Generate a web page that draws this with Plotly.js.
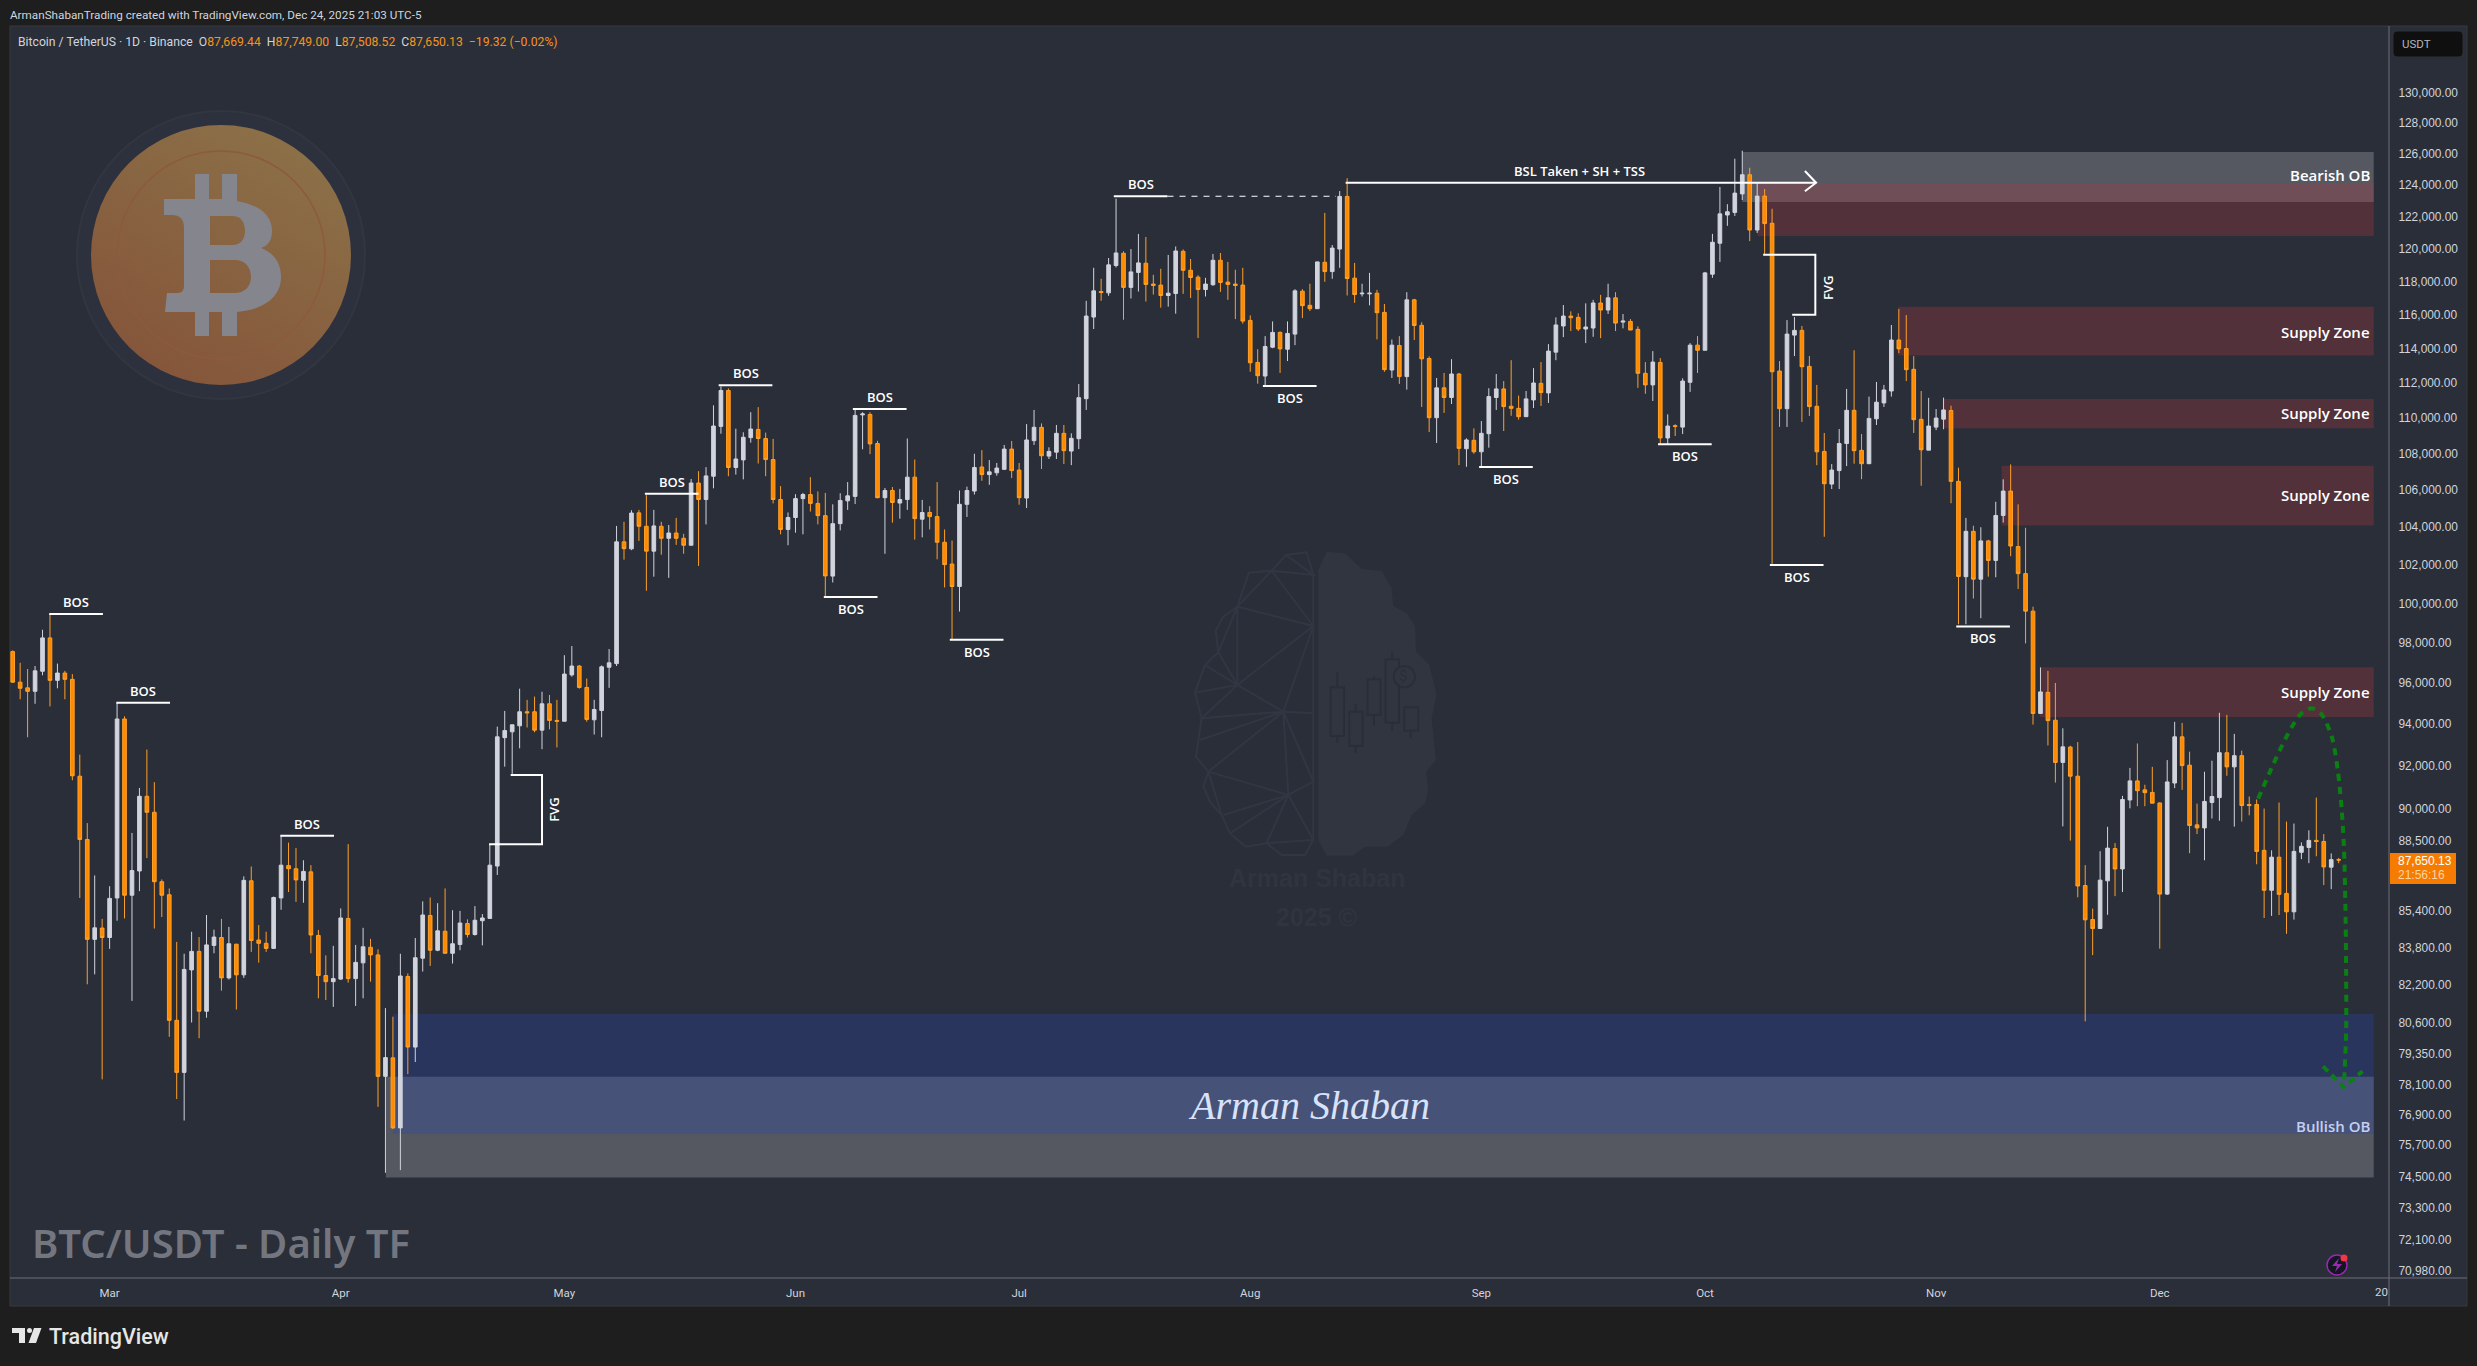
<!DOCTYPE html>
<html>
<head>
<meta charset="utf-8">
<title>BTC/USDT - Daily TF</title>
<script src="https://cdn.plot.ly/plotly-3.0.1.min.js"></script>
<style>
    html, body { margin: 0; padding: 0; background: #1e1e1e; overflow: hidden; }
    #chart { width: 2477px; height: 1366px; }
</style>
</head>
<body>
<div id="chart"></div>
<script>
// Daily candles, first one is 2025-02-16
const opens = [
    97560,96040,95760,95590,96580,98250,96130,96490,96180,91510,88580,84150,84640,84230,85960,94240,86080,87160,90570,89830,
    86680,86100,80720,78590,82840,83630,81100,83890,84230,82500,83940,82630,86720,84120,83980,83760,85960,87400,87260,86740,
    87120,84320,82600,82340,82450,85060,82470,83140,83810,83480,78430,79180,76380,82560,79620,83340,85190,83680,84500,83550,
    83930,84840,84360,84960,85060,87380,93340,93620,93910,94590,94590,93700,94980,94170,94130,96400,96840,95780,94200,94650,
    96780,96960,103220,102850,104770,104050,102730,104050,103410,103690,103410,103040,106390,105490,106760,109530,111570,107240,107660,108900,
    109360,108850,107680,105490,103880,104520,105540,105760,105280,104620,101420,104190,105420,105660,110180,110200,108570,105590,105980,105300,
    105490,106710,104430,104790,104570,103200,102050,100880,105230,105950,107270,106850,106950,107140,108260,107100,105570,108730,109480,107870,
    108090,109140,108150,108840,111100,115860,117390,117310,118970,119720,117640,118550,119110,117840,117780,117150,117270,119840,118680,118260,
    117510,117800,119290,117960,117840,117780,115660,113190,112400,114080,114950,113960,114850,117410,116560,116360,119170,118600,119980,123270,
    118200,117250,117250,117290,116140,112750,114180,112370,116890,115370,113420,110020,111720,111170,112520,108280,108750,108110,109120,111170,
    111660,110670,110550,110080,111030,111980,111430,113790,115330,115920,115840,115150,115210,116700,116280,117010,115560,115600,115130,112560,
    111890,113190,108880,109570,109490,112040,114200,113900,118440,120340,122100,122260,123430,124650,121160,123290,121580,112690,110530,114790,
    115070,112960,110670,108130,106330,107070,108570,110440,108190,107450,109960,110860,111540,114500,114000,112790,109930,108200,109490,109940,
    110430,106480,101390,103780,101260,103270,102240,104630,105950,102970,101550,99610,94510,95540,94180,92160,92890,91510,86510,85010,
    84620,86720,88170,87250,90400,91290,90870,90750,90260,86130,91190,93380,92030,89250,89110,90280,90510,92620,91950,92480,
    90190,90190,88090,86300,87780,86160,85350,88000,88220,88540,88490,87330,87669.44
];
const highs = [
    97620,97000,96690,96840,98660,99460,96960,96600,96440,92530,89330,86960,85040,86480,95020,94370,88880,90960,92770,91230,
    86780,86380,84040,83530,84480,84250,85210,84570,85040,84690,83960,86920,87360,84770,84480,86020,88750,88440,88190,87640,
    87420,84560,83460,83870,85500,88370,83910,84650,84170,83720,81230,80870,83530,82690,84210,85810,85980,85730,86380,85420,
    85390,85020,85600,85250,88370,93870,94630,93960,95720,95170,95330,95570,95410,95170,97380,97840,96890,96220,95170,96870,
    97690,104070,104290,104910,104930,105730,104930,104290,104120,104500,103650,106610,107040,107260,110720,111800,111690,109400,109200,110330,
    110620,109180,108830,106220,104790,105780,105850,106710,105930,105850,105230,105830,106440,110540,110330,110330,108720,106120,106170,106070,
    108850,107680,105470,105130,106440,103880,103290,105980,106190,108000,108200,107650,107490,108490,108710,107490,109660,110460,109700,108360,
    109610,109610,109140,111940,116830,118830,118160,119430,123130,119840,119980,120920,120730,118400,118770,119620,120140,119960,119370,118380,
    118220,119680,119740,119190,118710,118830,115960,113960,114730,115600,115010,115600,117530,117530,117860,119210,122230,120230,123610,124430,
    119130,117860,118520,117490,116640,114530,114730,117350,116950,115550,113540,112290,112580,113380,112580,108860,109420,109830,111700,112520,
    112110,113320,111280,111540,112860,113210,114260,115840,116580,116200,116080,116680,116890,117190,117860,117350,116040,115740,115310,113210,
    113850,113440,110210,109650,112270,114320,114730,118580,120920,123870,122780,125680,126200,125100,124190,123740,122490,113270,115680,115860,
    115330,113560,111890,109160,107430,109380,111660,113900,109100,111220,112060,111890,115390,116340,115980,113560,111540,111150,110510,111160,
    110700,107230,104500,104080,104000,103330,105370,106590,107410,105230,103970,99840,96770,96600,96000,93790,92950,93130,87420,85490,
    88050,89160,88420,90590,91900,93060,91110,91950,90280,92270,94100,94050,92670,90230,91720,92240,94540,94440,93520,92720,
    90560,90420,90000,88090,90280,89400,89310,88450,89000,90510,88830,87950,87749.00
];
const lows = [
    96000,95200,93360,94980,96380,94850,95740,95200,91320,85960,82230,82650,78310,83740,84960,85060,81530,86260,87740,84620,
    85120,80040,77520,76670,80630,79980,80830,83550,81960,82430,81170,82500,83610,83150,83610,83760,85440,86220,85790,85750,
    83550,81640,81570,81280,82410,82300,81320,81640,82340,77210,74640,76330,74740,78520,79010,82770,83010,83640,83550,83110,
    83680,84230,84310,83890,85040,86980,91960,91620,92830,93830,93600,92790,93740,92870,94130,96310,95720,94110,93490,93360,
    95760,96840,102280,102780,103270,100660,101390,102540,101330,103060,102590,103040,101950,104150,106100,109120,106760,106850,106590,108620,
    107460,106760,105280,103620,103040,103710,103620,104840,104150,100370,101090,103830,104930,105250,108250,107980,105560,102590,104240,104460,
    104930,103340,103460,103880,102300,100830,98180,99590,104550,105760,106510,106290,106790,107100,106660,105210,105030,108490,107160,107710,
    107710,107430,107370,108260,110460,115150,116830,117130,118850,115700,116970,117390,116790,117210,116420,116480,116060,117250,117000,114620,
    117090,117740,117370,116890,115740,115470,112650,111960,111830,114020,112580,113270,114200,115800,116220,116360,117980,118160,118830,117150,
    116710,117090,116560,114540,112650,112290,111950,111620,114500,110630,109210,108600,110290,110800,107370,107280,108000,107280,108340,110460,
    109270,110130,109910,110080,110570,110690,110860,113320,114670,115030,115030,114320,114690,114610,116040,115030,115190,115090,111720,111380,
    110970,108550,108550,108990,109100,111490,112580,113900,118220,119190,121420,122040,123040,120470,120980,119620,102000,109500,109500,113560,
    109780,110120,107370,103490,106060,106060,107320,107450,106600,107450,109610,110630,111220,113730,112110,109160,106240,108200,109320,109370,
    105290,98940,98940,100260,99250,101390,101360,104250,102460,100750,97970,93970,94510,92970,91210,89180,88530,85990,80680,83470,
    84620,85220,86040,86220,90010,90110,90110,90250,83750,86090,90950,90870,87960,88830,87640,89540,89440,91530,89170,89400,
    89690,87460,85080,85170,85210,84390,85010,87690,87510,87820,86530,86350,87508.52
];
const closes = [
    96040,95740,95590,96600,98250,96130,96490,96180,91530,88580,84150,84650,84230,85940,94240,86080,87180,90570,89830,86680,
    86080,80720,78590,82860,83630,81100,83910,84250,82500,83960,82630,86740,84100,83980,83760,85980,87420,87260,86760,87140,
    84340,82600,82340,82470,85080,82470,83160,83830,83480,78430,79190,76380,82580,79620,83360,85210,83680,84520,83550,83960,
    84860,84360,84980,85080,87420,93380,93680,93960,94590,94540,93700,94980,94170,94130,96440,96840,95780,94220,94700,96800,
    97000,103220,102860,104760,104050,102730,104070,103410,103690,103410,103040,106390,105490,106780,109550,111570,107240,107710,108920,109380,
    108850,107680,105490,103880,104520,105540,105760,105280,104620,101430,104190,105440,105690,110150,110230,108550,105590,105980,105330,105490,
    106710,104460,104790,104570,103200,102020,100880,105230,105980,107240,106850,107000,107210,108260,107070,105590,108770,109480,107890,108130,
    109140,108170,108860,111160,115920,117430,117330,119010,119740,117640,118580,119130,117820,117760,117150,117290,119860,118680,118240,117510,
    117840,119290,117940,117820,117760,115620,113170,112420,114120,114950,113980,114890,117430,116540,116360,119190,118600,120040,123270,118180,
    117210,117290,117290,116120,112770,114200,112370,116890,115360,113400,110020,111720,111170,112520,108300,108770,108110,109140,111220,111660,
    110650,110550,110080,111090,112000,111450,113850,115390,115920,115820,115150,115270,116700,116280,117010,115500,115620,115090,112560,111890,
    113210,108880,109550,109530,112110,114200,113900,118520,120400,122170,122300,123480,124650,121160,123290,121560,112650,110530,114850,115070,
    112940,110650,108110,106350,107100,108570,110440,108170,107450,109980,110900,111600,114500,113980,112770,109910,108220,109550,110000,110460,
    106480,101400,103780,101260,103270,102240,104630,105950,103000,101550,99610,94510,95560,94160,92160,92900,91510,86490,85000,84620,
    86750,88190,87250,90420,91290,90830,90740,90250,86130,91240,93380,92010,89220,89110,90330,90560,92620,91950,92480,90140,
    90140,88040,86300,87780,86120,85350,88040,88270,88540,88490,87340,87669,87650.13
];

// price scale as printed on the right
const priceTicks = [130000,128000,126000,124000,122000,120000,118000,116000,114000,112000,110000,108000,106000,104000,102000,100000,
    98000,96000,94000,92000,90000,88500,85400,83800,82200,80600,79350,78100,76900,75700,74500,73300,72100,70980];
const monthTicks = ['2025-03-01','2025-04-01','2025-05-01','2025-06-01','2025-07-01','2025-08-01','2025-09-01','2025-10-01','2025-11-01','2025-12-01'];
const monthLabels = ['Mar','Apr','May','Jun','Jul','Aug','Sep','Oct','Nov','Dec'];

// zones, start is a candle index
const supplyNames = ['Supply Zone','Supply Zone','Supply Zone','Supply Zone'];
const supplyStart = [252.9,258.9,266.8,271.9];
const supplyTop = [116470,111080,107340,96780];
const supplyBottom = [113600,109420,104090,94340];
const supplyLabelPrice = [114970,110280,105750,95560];

// break of structure lines
const bosStart = [4.9,13.9,35.9,84.8,94.7,112.7,108.8,125.7,147.7,167.7,196.7,220.7,235.7,260.7];
const bosPrice = [99470,95030,88750,105800,111870,110520,100340,98160,123280,111830,107270,108530,102000,98830];
const bosAbove = [true,true,true,true,true,true,false,false,true,false,false,false,false,false];

// projected path, candle index and price
const pathIndex = [301.2,303.2,305.2,307.0,308.4,309.7,311.1,311.9,312.4,312.7,312.9,313.0,313.0,312.7];
const pathPrice = [90460,92050,93520,94520,94760,94470,93350,91730,89980,88270,85640,82670,80230,78060];
const headIndex = [309.9,312.7,315.2];
const headPrice = [78830,78000,78640];

const t0 = Date.UTC(2025, 1, 16);
const dayAt = function (i) {
    return new Date(t0 + i * 86400000).toISOString().slice(0, 19).replace('T', ' ');
};
const dates = opens.map((_, i) => dayAt(i));
const rightEdge = 316.7;

// page pixel to paper fraction
const xp = x => (x - 10) / 2379;
const yp = y => (1278 - y) / 1252;

const priceText = v => v.toLocaleString('en-US', { minimumFractionDigits: 2, maximumFractionDigits: 2 });

const segments = function (list) {
    let x = [], y = [];
    list.forEach(s => {
        s.forEach(p => { x.push(dayAt(p[0])); y.push(p[1]); });
        x.push(null); y.push(null);
    });
    return { x: x, y: y };
};

const whiteLines = segments([
    ...bosStart.map((s, i) => [[s, bosPrice[i]], [s + 7.2, bosPrice[i]]]),
    [[178.8, 124140], [241.9, 124140]],
    [[240.4, 124890], [241.9, 124140], [240.4, 123600]],
    [[66.8, 91570], [71, 91570], [71, 88370], [63.9, 88370]],
    [[234.8, 119630], [241.8, 119630], [241.8, 116000], [238.7, 116000]]
]);

const candles = {
    type: 'candlestick',
    x: dates, open: opens, high: highs, low: lows, close: closes,
    whiskerwidth: 0,
    increasing: { line: { color: '#d1d4dc', width: 1 }, fillcolor: '#d1d4dc' },
    decreasing: { line: { color: '#ffa028', width: 1 }, fillcolor: '#ff8a00' },
    hoverinfo: 'skip', showlegend: false
};
const lineTrace = {
    type: 'scatter', mode: 'lines', x: whiteLines.x, y: whiteLines.y,
    line: { color: '#ffffff', width: 2 }, hoverinfo: 'skip', showlegend: false, connectgaps: false
};
const dashTrace = {
    type: 'scatter', mode: 'lines', x: [dayAt(154.9), dayAt(177.5)], y: [123280, 123280],
    line: { color: '#ffffff', width: 1, dash: '6px,6px' }, hoverinfo: 'skip', showlegend: false
};
const pathTrace = {
    type: 'scatter', mode: 'lines', x: pathIndex.map(dayAt), y: pathPrice,
    line: { color: '#0b8012', width: 4, dash: '7px,6px', shape: 'spline', smoothing: 0.8 },
    hoverinfo: 'skip', showlegend: false
};
const headTrace = {
    type: 'scatter', mode: 'lines', x: headIndex.map(dayAt), y: headPrice,
    line: { color: '#0b8012', width: 4, dash: '7px,5px' }, hoverinfo: 'skip', showlegend: false
};

const redFill = 'rgba(175,56,67,0.3)';
const zone = function (start, top, bottom, color) {
    return {
        type: 'rect', layer: 'below', xref: 'x', yref: 'y',
        x0: dayAt(start), x1: dayAt(rightEdge), y0: bottom, y1: top,
        fillcolor: color, line: { width: 0 }
    };
};
const shapes = [
    zone(232, 126120, 122920, 'rgba(128,130,137,0.5)'),
    zone(234, 124120, 120790, redFill),
    ...supplyStart.map((s, i) => zone(s, supplyTop[i], supplyBottom[i], redFill)),
    zone(50.05, 78410, 74460, 'rgba(128,130,137,0.5)'),
    zone(51, 80980, 76140, 'rgba(39,69,174,0.3)')
];

const pageText = function (x, y, text, size, color, extra) {
    return Object.assign({
        xref: 'paper', yref: 'paper', x: xp(x), y: yp(y), text: text, showarrow: false,
        xanchor: 'left', yanchor: 'middle',
        font: { family: 'Roboto, sans-serif', size: size, color: color }
    }, extra || {});
};
const labelFont = { family: '"Open Sans", sans-serif', size: 13, color: '#ffffff', weight: 600 };
const dataText = function (i, price, text, extra) {
    return Object.assign({
        xref: 'x', yref: 'y', x: dayAt(i), y: Math.log10(price), text: text, showarrow: false,
        xanchor: 'center', yanchor: 'middle', font: labelFont
    }, extra || {});
};
const zoneLabel = function (price, text, color) {
    return {
        xref: 'paper', yref: 'y', x: xp(2372), y: Math.log10(price), text: text, showarrow: false,
        xanchor: 'right', yanchor: 'middle',
        font: { family: '"Open Sans", sans-serif', size: 15, color: color, weight: 600 }
    };
};

const orange = '#f7931a';
const grey = '#d1d4dc';
const span = (c, t) => `<span style="color:${c}">${t}</span>`;
const legendLine = span(grey, 'Bitcoin / TetherUS · 1D · Binance  O') + span(orange, '87,669.44') +
    span(grey, '  H') + span(orange, '87,749.00') + span(grey, '  L') + span(orange, '87,508.52') +
    span(grey, '  C') + span(orange, '87,650.13') + span(orange, '  −19.32 (−0.02%)');

const watermarkFont = { family: '"Liberation Sans", sans-serif', size: 25, color: '#30343f', weight: 700 };

const annotations = [
    pageText(8, 15, 'ArmanShabanTrading created with TradingView.com, Dec 24, 2025 21:03 UTC-5', 11.7, grey),
    pageText(16, 42, legendLine, 12.2, grey),
    pageText(30, 1242, 'BTC/USDT - Daily TF', 40, '#73767f', { font: { family: '"Noto Sans", sans-serif', size: 40, color: '#73767f', weight: 600 } }),
    pageText(47, 1336, 'TradingView', 21.5, '#e6e6e6', { font: { family: 'Roboto, sans-serif', size: 21.5, color: '#e6e6e6', weight: 500 } }),
    pageText(2390, 1292, '20', 11.5, grey, { xanchor: 'right' }),
    pageText(2400, 44, 'USDT', 11.5, '#b2b5be'),
    pageText(2396, 861, '87,650.13', 12, '#ffffff', { font: { family: '"Liberation Sans", sans-serif', size: 12, color: '#ffffff' } }),
    pageText(2396, 875, '21:56:16', 12, '#ffd2a0', { font: { family: '"Liberation Sans", sans-serif', size: 12, color: '#ffd2a0' } }),
    pageText(1317, 878, 'Arman Shaban', 25, '#30343f', { xanchor: 'center', font: watermarkFont }),
    pageText(1317, 917, '2025 ©', 25, '#30343f', { xanchor: 'center', font: watermarkFont }),
    pageText(1403, 676, '$', 15, '#2a2e39', { xanchor: 'center' }),
    pageText(1309, 1105, 'Arman Shaban', 40, '#d8e2fa', { xanchor: 'center', font: { family: '"Liberation Serif", serif', size: 40, color: '#d8e2fa', style: 'italic' } }),
    ...bosStart.map((s, i) => dataText(s + 3.6, bosPrice[i], 'BOS', { yshift: bosAbove[i] ? 12 : -12 })),
    dataText(210.2, 124140, 'BSL Taken + SH + TSS', { yshift: 12 }),
    dataText(72.5, 89950, 'FVG', { textangle: -90 }),
    dataText(243.4, 117620, 'FVG', { textangle: -90 }),
    zoneLabel(124660, 'Bearish OB', '#ffffff'),
    ...supplyNames.map((n, i) => zoneLabel(supplyLabelPrice[i], n, '#ffffff')),
    zoneLabel(76450, 'Bullish OB', '#c3d0f2')
];

// frame, coin, brain mark and small icons, in page pixels
const brainLines = [
    [640,225,620,157,558,165,515,212,447,218,412,320,370,350,347,392,355,457,315,495,285,578,305,655,288,770,325,815,310,860,330,905,365,945,390,1000,437,1040,500,1030,545,1065,615,1065,640,1020,640,225],
    [515,212,640,225,558,165],[515,212,640,378,412,320,515,212],[412,320,412,555,355,457,412,320],[315,495,412,555,285,578],
    [640,378,412,555,550,635,640,378],[412,555,305,655,550,635,300,720],[550,635,640,640],[550,635,325,815,565,885,550,635,640,845,565,885,640,1020,500,1030,565,885,390,1000],
    [370,945,565,885],[325,815,365,945]
].map(p => `<polyline points="${p.join(' ')}"/>`).join('');

const backdrop = `<svg xmlns="http://www.w3.org/2000/svg" width="2477" height="1366" viewBox="0 0 2477 1366">
<defs><linearGradient id="coin" x1="0.9" y1="0" x2="0.3" y2="1"><stop offset="0" stop-color="#8c7349"/><stop offset="1" stop-color="#85553a"/></linearGradient></defs>
<rect x="10" y="26" width="2457" height="1280" fill="#2a2e39" stroke="#36383d" stroke-width="1"/>
<line x1="2389" y1="26" x2="2389" y2="1306" stroke="#6c6f7a"/>
<line x1="10" y1="1278" x2="2467" y2="1278" stroke="#6c6f7a"/>
<rect x="2393" y="31" width="70" height="26" rx="4" fill="#0f0f0f" stroke="#2e3036"/>
<rect x="2390" y="853" width="66" height="31" fill="#f57c00"/>
<circle cx="221" cy="255" r="144" fill="#2d313d" stroke="#32363f" stroke-width="2"/>
<circle cx="221" cy="255" r="130" fill="url(#coin)"/>
<circle cx="221" cy="255" r="104" fill="none" stroke="#8d5a3f" stroke-width="1.5"/>
<path fill="#85868d" fill-rule="evenodd" d="M164 199H195V174H209V199H222V174H237V201C258 205 272 214 272 231C272 240 268 246 261 248C274 253 281 263 281 277C281 298 262 310 237 312V336H222V312H209V336H195V312H165L167 293H178C182 293 184 290 184 285V228C184 219 180 215 172 215H164Z
M210 216V245H232C241 245 245 239 245 231C245 222 241 216 232 216Z M210 260V293H235C245 293 251 286 251 277C251 267 245 260 235 260Z"/>
<g transform="translate(1100,500) scale(0.3333)">
<polygon fill="#313540" points="655,210 680,155 735,160 785,207 845,213 875,265 880,318 920,340 945,378 948,455 988,495 1010,585 995,655 1008,780 978,815 985,870 975,910 935,945 910,1005 862,1040 795,1040 758,1067 680,1067 655,1020"/>
<g fill="none" stroke="#323642" stroke-width="6">${brainLines}</g>
<g fill="none" stroke="#2a2e39" stroke-width="6">
<rect x="692" y="562" width="40" height="146"/><path d="M712 515V562M712 708V728"/>
<rect x="748" y="635" width="40" height="103"/><path d="M767 612V635M767 738V760"/>
<rect x="803" y="538" width="39" height="107"/><path d="M822 528V538M822 645V678"/>
<rect x="857" y="478" width="40" height="190"/><path d="M877 455V478M877 668V692"/>
<rect x="913" y="622" width="42" height="70"/><path d="M932 692V715"/>
<circle cx="913" cy="530" r="32" fill="#313540"/>
</g></g>
<g fill="#e6e6e6"><path d="M12 1328H25V1343H19V1333H12Z"/><circle cx="29.5" cy="1330.5" r="2.5"/><path d="M34 1328H41.5L36 1343H28.5Z"/></g>
<circle cx="2337" cy="1265" r="10" fill="#131722" stroke="#9c27b0" stroke-width="1.5"/>
<path d="M2339 1258L2332 1266H2337L2335 1272L2342 1264H2337Z" fill="#9c27b0"/>
<circle cx="2344" cy="1258" r="3.5" fill="#f23645"/>
</svg>`;

const layout = {
    width: 2477, height: 1366,
    paper_bgcolor: '#1e1e1e', plot_bgcolor: 'rgba(0,0,0,0)',
    margin: { l: 10, r: 88, t: 26, b: 88, pad: 0 },
    showlegend: false, dragmode: false, hovermode: false,
    xaxis: {
        type: 'date', range: [dayAt(-0.362), dayAt(318.75)], rangeslider: { visible: false },
        showgrid: false, zeroline: false, showline: false,
        tickmode: 'array', tickvals: monthTicks, ticktext: monthLabels,
        ticks: 'outside', ticklen: 4, tickcolor: 'rgba(0,0,0,0)',
        tickfont: { family: 'Roboto, sans-serif', size: 11.5, color: grey }
    },
    yaxis: {
        type: 'log', side: 'right', range: [4.84948, 5.12889],
        showgrid: false, zeroline: false, showline: false,
        tickmode: 'array', tickvals: priceTicks, ticktext: priceTicks.map(priceText),
        ticks: 'outside', ticklen: 6, tickcolor: 'rgba(0,0,0,0)',
        tickfont: { family: '"Liberation Sans", sans-serif', size: 11.9, color: grey }
    },
    shapes: shapes,
    annotations: annotations,
    images: [{
        source: 'data:image/svg+xml;charset=utf-8,' + encodeURIComponent(backdrop),
        xref: 'paper', yref: 'paper', x: xp(0), y: yp(0), sizex: 2477 / 2379, sizey: 1366 / 1252,
        xanchor: 'left', yanchor: 'top', sizing: 'stretch', layer: 'below'
    }]
};

Plotly.newPlot('chart', [candles, dashTrace, lineTrace, pathTrace, headTrace], layout, { displayModeBar: false, staticPlot: true });
</script>
</body>
</html>
